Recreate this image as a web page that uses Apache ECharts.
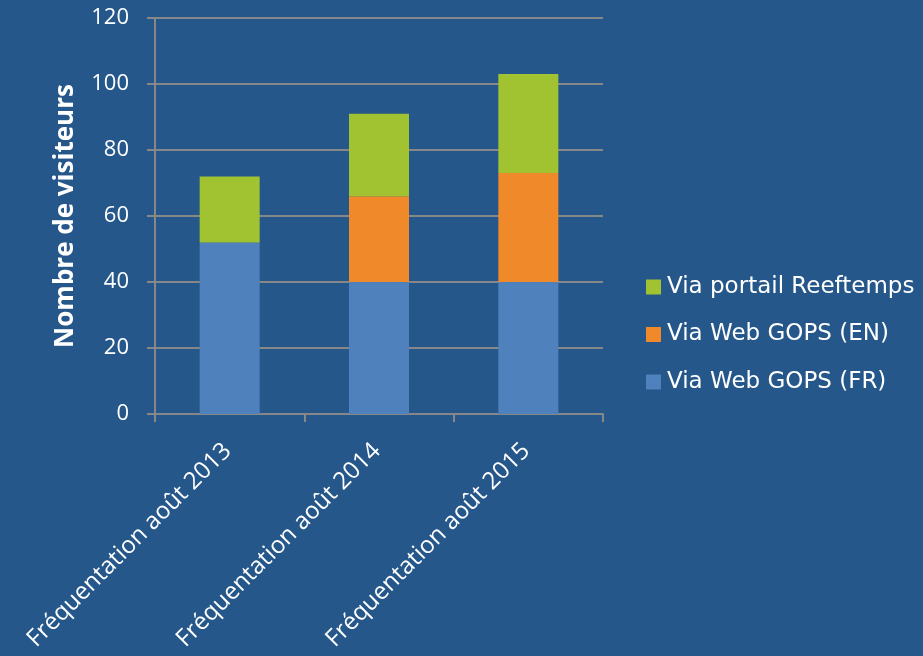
<!DOCTYPE html>
<html>
<head>
<meta charset="utf-8">
<script src="https://cdn.jsdelivr.net/npm/echarts@6/dist/echarts.min.js"></script>
<style>
  html, body { margin: 0; padding: 0; background: #25578A; }
  #chart { width: 923px; height: 656px; }
</style>
</head>
<body>
<div id="chart"></div>
<script>
var categories = ['Fréquentation août 2013', 'Fréquentation août 2014', 'Fréquentation août 2015']
var webFr = [52, 40, 40]
var webEn = [0, 26, 33]
var portail = [20, 25, 30]
var yTicks = { min: 0, max: 120, interval: 20 }

var gridColor = '#878787'
var textFont = '"Open Sans", sans-serif'

function barSeries(name, data, color) {
    return {
        name: name,
        type: 'bar',
        stack: 'total',
        barWidth: 60,
        data: data,
        itemStyle: { color: color },
        emphasis: { disabled: true }
    }
}

var option = {
    backgroundColor: '#25578A',
    animation: false,
    grid: { left: 155, right: 320, top: 18, bottom: 242, outerBoundsMode: 'none' },
    legend: {
        orient: 'vertical',
        left: 641,
        top: 270,
        itemWidth: 15,
        itemHeight: 15,
        itemGap: 23.5,
        icon: 'rect',
        data: ['Via portail Reeftemps', 'Via Web GOPS (EN)', 'Via Web GOPS (FR)'],
        textStyle: { color: '#ffffff', fontSize: 23, lineHeight: 24, fontFamily: '"DejaVu Sans", sans-serif', padding: [0, 0, 0, 1] }
    },
    xAxis: {
        type: 'category',
        data: categories,
        axisLine: { lineStyle: { color: gridColor, width: 2 } },
        axisTick: { show: true, length: 8, lineStyle: { color: gridColor, width: 2 } },
        axisLabel: {
            rotate: 45,
            color: '#ffffff',
            fontSize: 24,
            fontFamily: textFont,
            margin: 31,
            padding: [0, 3, 0, 0]
        }
    },
    yAxis: {
        type: 'value',
        min: yTicks.min,
        max: yTicks.max,
        interval: yTicks.interval,
        name: 'Nombre de visiteurs',
        nameLocation: 'middle',
        nameRotate: 90,
        nameGap: 76,
        nameTextStyle: { color: '#ffffff', fontSize: 26, fontWeight: 'bold', fontFamily: textFont },
        axisLine: { show: true, lineStyle: { color: gridColor, width: 2 } },
        axisTick: { show: true, length: 8, lineStyle: { color: gridColor, width: 2 } },
        axisLabel: { color: '#ffffff', fontSize: 22, fontFamily: textFont, margin: 26 },
        splitLine: { lineStyle: { color: gridColor, width: 2 } }
    },
    series: [
        barSeries('Via Web GOPS (FR)', webFr, '#4F81BD'),
        barSeries('Via Web GOPS (EN)', webEn, '#F0892A'),
        barSeries('Via portail Reeftemps', portail, '#A1C332')
    ]
}

var chart = echarts.init(document.getElementById('chart'))
chart.setOption(option)
</script>
</body>
</html>
